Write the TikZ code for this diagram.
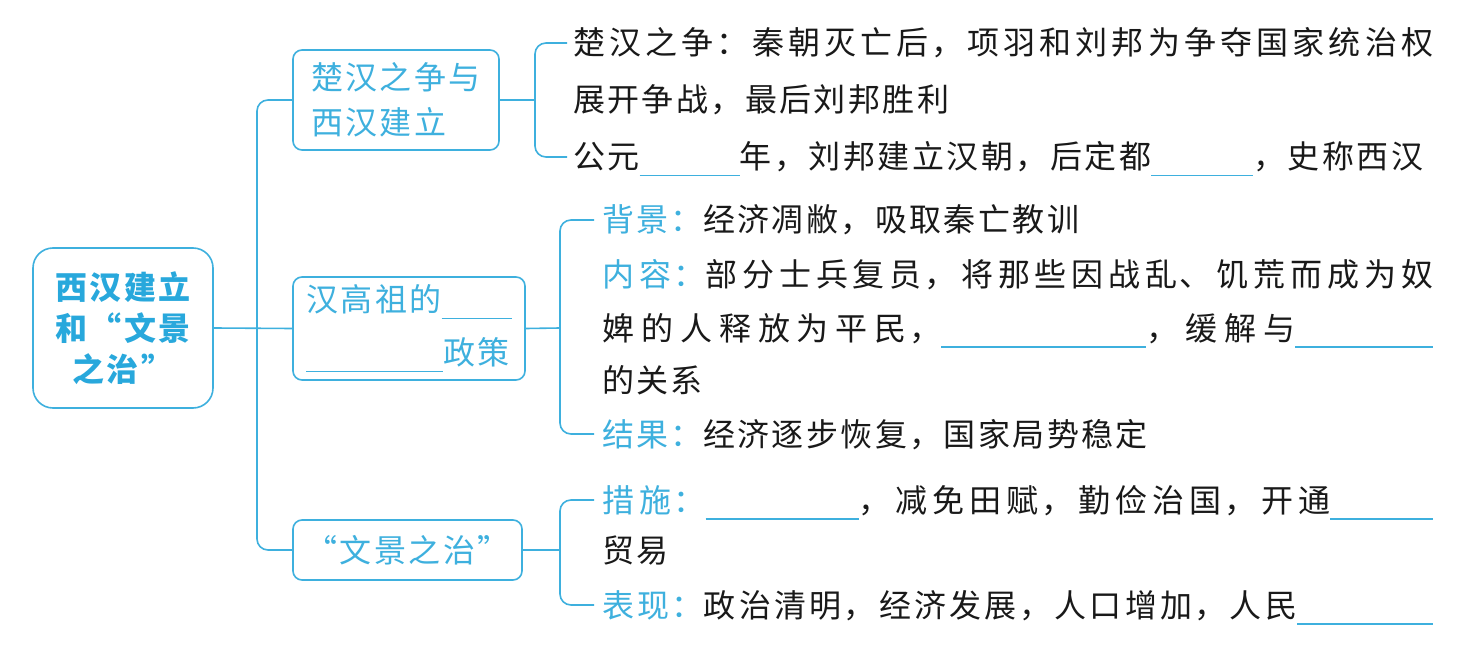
\documentclass[tikz,border=0pt]{standalone}
\usepackage{fontspec}
\setmainfont{Noto Sans CJK SC}[LetterSpace=7.5]
\definecolor{cy}{RGB}{62,176,222}
\definecolor{rootcy}{RGB}{40,168,220}
\definecolor{ink}{RGB}{25,25,25}
\newcommand\blank[1]{\textcolor{cy}{\rule[-7.5pt]{#1pt}{1.4pt}}}
\newcommand\cyt[1]{\textcolor{cy}{#1}}
\newcommand\just[2]{\parbox[t]{#1pt}{\XeTeXlinebreaklocale "zh"\XeTeXlinebreakskip=0pt plus 1fil\parfillskip=0pt\parindent=0pt\leftskip=0pt\rightskip=0pt\noindent #2}}
\begin{document}
\begin{tikzpicture}[x=1pt,y=-1pt,
  conn/.style={draw=cy, line width=1.6pt, rounded corners=11pt},
  bbox/.style={draw=cy, line width=1.6pt, rounded corners=9pt, text=cy, font=\fontsize{32}{45}\selectfont, align=left, inner sep=0pt},
  rootbox/.style={draw=cy, line width=1.6pt, rounded corners=20pt, text=rootcy, font=\bfseries\fontsize{32}{41}\selectfont, align=center, minimum width=180pt, minimum height=160pt, inner sep=0pt},
  leaf/.style={anchor=west, inner sep=0pt, text height=28pt, text depth=4pt, font=\fontsize{32}{40}\selectfont, text=ink}]
\useasboundingbox (0,0) rectangle (1481,647);
\fill[white] (0,0) rectangle (1481,647);
% root and branches
\node[rootbox] (root) at (123,328) {西汉建立\\和“文景\\之治”};
\node[bbox, minimum width=206pt, minimum height=100pt] (b1) at (396,100) {楚汉之争与\\西汉建立};
\node[bbox, minimum width=232pt, minimum height=103pt, font=\fontsize{32}{53}\selectfont] (b2) at (409,328.5) {汉高祖的\blank{70}\\\blank{137}政策};
\node[bbox, minimum width=229pt, minimum height=60pt] (b3) at (407.5,550) {“文景之治”};
% leaves
\node[leaf] (l11) at (573,43) {\just{860}{楚汉之争：秦朝灭亡后，项羽和刘邦为争夺国家统治权}};
\node[leaf] (l12) at (573,100) {展开争战，最后刘邦胜利};
\node[leaf] (l13) at (573,157) {\just{850}{公元\blank{100}年，刘邦建立汉朝，后定都\blank{102}，史称西汉}};
\node[leaf] (l21) at (602,220) {\cyt{背景：}经济凋敝，吸取秦亡教训};
\node[leaf] (l22) at (602,275) {\just{831}{\cyt{内容：}部分士兵复员，将那些因战乱、饥荒而成为奴}};
\node[leaf] (l23) at (602,328) {\just{831}{婢的人释放为平民，\blank{205}，缓解与\blank{138}}};
\node[leaf] (l24) at (602,380) {的关系};
\node[leaf] (l25) at (602,434) {\cyt{结果：}经济逐步恢复，国家局势稳定};
\node[leaf] (l31) at (602,500) {\just{831}{\cyt{措施：}\blank{153}，减免田赋，勤俭治国，开通\blank{103}}};
\node[leaf] (l32) at (602,550) {贸易};
\node[leaf] (l33) at (602,605) {\just{831}{\cyt{表现：}政治清明，经济发展，人口增加，人民\blank{136}}};
% connectors
\coordinate (tr) at (257,328);
\draw[conn] (root.east) -- (b2.west);
\draw[conn] (b1.west) -| (tr) |- (b3.west);
\coordinate (j1) at (535,100);
\draw[conn] (b1.east) -- (j1);
\draw[conn] ([xshift=-6pt]l11.west) -| (j1) |- ([xshift=-6pt]l13.west);
\coordinate (j2) at (560,328);
\draw[conn] (b2.east) -- (j2);
\draw[conn] ([xshift=-8pt]l21.west) -| (j2) |- ([xshift=-8pt]l25.west);
\coordinate (j3) at (560,550);
\draw[conn] (b3.east) -- (j3);
\draw[conn] ([xshift=-8pt]l31.west) -| (j3) |- ([xshift=-8pt]l33.west);
\end{tikzpicture}
\end{document}
